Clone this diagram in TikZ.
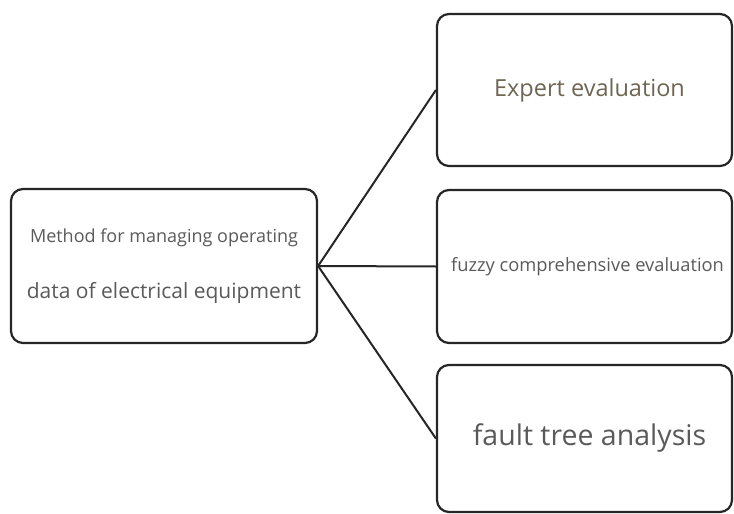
\documentclass[tikz,border=0pt]{standalone}
\usepackage{fontspec}
\setmainfont{Open Sans}
\definecolor{txtgray}{HTML}{5A5A5A}
\definecolor{txtbrown}{HTML}{6E6654}
\begin{document}
\begin{tikzpicture}[x=1pt,y=-1pt,
  box/.style={draw=black!85, line width=2.2pt, rounded corners=12pt, fill=white,
    inner sep=0pt, align=center, text=txtgray},
  conn/.style={draw=black!85, line width=2pt}]
\useasboundingbox[fill=white] (0,0) rectangle (734,514);
\node[box, minimum width=306pt, minimum height=154pt] (src) at (164,266)
  {{\fontsize{18}{22}\selectfont Method for managing operating}\\[34pt]
   {\fontsize{21}{24}\selectfont data of electrical equipment}};
\node[box, minimum width=295pt, minimum height=152pt, text=txtbrown] (e) at (584.5,90)
  {\hspace*{10pt}\fontsize{23.5}{26}\selectfont Expert evaluation};
\node[box, minimum width=295pt, minimum height=153pt] (f) at (584.5,266.5)
  {\hspace*{6pt}\fontsize{18.3}{21}\selectfont fuzzy comprehensive evaluation};
\node[box, minimum width=295pt, minimum height=147pt] (t) at (584.5,438.5)
  {\hspace*{10pt}\fontsize{28.5}{31}\selectfont fault tree analysis};
\draw[conn] (src.east) -- (e.west);
\draw[conn] (src.east) -- (f.west);
\draw[conn] (src.east) -- (t.west);
\end{tikzpicture}
\end{document}
